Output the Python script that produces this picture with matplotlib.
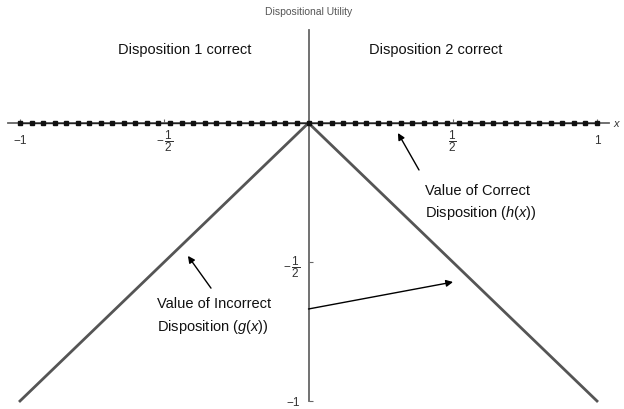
import numpy as np
import matplotlib
matplotlib.use("Agg")
import matplotlib.pyplot as plt

plt.rcParams['font.family'] = ['Liberation Sans', 'DejaVu Sans']
plt.rcParams['mathtext.fontset'] = 'custom'
plt.rcParams['mathtext.rm'] = 'Liberation Sans'
plt.rcParams['mathtext.it'] = 'Liberation Sans:italic'

# g(x): value of the incorrect disposition
g_x = [-1, 0, 1]
g_vals = [-1, 0, -1]
# h(x): value of the correct disposition (sampled points)
h_x = np.linspace(-1, 1, 51)
h_vals = np.zeros(len(h_x))

xticks = [-1, -0.5, 0.5, 1]
xtick_labels = ["\u22121", r"$-\,\dfrac{1}{2}$", r"$\dfrac{1}{2}$", "1"]
yticks = [-1, -0.5]
ytick_labels = ["\u22121", r"$-\,\dfrac{1}{2}$"]

fig = plt.figure(figsize=(6.24, 4.10), dpi=100)
ax = fig.add_axes([0, 0, 1, 1])
ax.set_xlim(-308.5 / 288.5, (624 - 308.5) / 288.5)
ax.set_ylim((124 - 410) / 278, 124 / 278)

axcol = '#666666'
for s in ['top', 'right']:
    ax.spines[s].set_visible(False)
ax.spines['left'].set_position(('data', 0))
ax.spines['bottom'].set_position(('data', 0))
ax.spines['left'].set_bounds(-1, 0.335)
ax.spines['bottom'].set_bounds(-1.042, 1.042)
for s in ['left', 'bottom']:
    ax.spines[s].set_color(axcol)
    ax.spines[s].set_linewidth(1.3)

ax.set_xticks(xticks)
ax.set_xticklabels(xtick_labels)
ax.set_yticks(yticks)
ax.set_yticklabels(ytick_labels)
ax.tick_params(axis='x', direction='in', length=3, color=axcol, pad=12,
               labelsize=8.5, labelcolor='#333333')
ax.tick_params(axis='y', direction='in', length=3, color=axcol, pad=6,
               labelsize=8.5, labelcolor='#333333')
for lbl in ax.get_xticklabels():
    lbl.set_va('center')

ax.plot(g_x, g_vals, color='#555555', lw=2, zorder=3)
ax.plot(h_x, h_vals, color='#222222', lw=1, marker='s', markersize=3.3,
        markerfacecolor='#111111', markeredgecolor='#111111', zorder=4)

ax.text((613 - 308.5) / 288.5, 0, "x", style='italic', fontsize=8,
        color='#333333', ha='left', va='center')

ax.text(0, 0.403, "Dispositional Utility", fontsize=7.5, color='#555555',
        ha='center', va='center')
ax.text(-0.428, 0.266, "Disposition 1 correct", fontsize=10.5,
        ha='center', va='center', color='#111111')
ax.text(0.442, 0.266, "Disposition 2 correct", fontsize=10.5,
        ha='center', va='center', color='#111111')

ax.text(0.404, -0.284, "Value of Correct\nDisposition ($\\it{h}$($\\it{x}$))",
        fontsize=10.5, ha='left', va='center', linespacing=1.5, color='#111111')
ax.text(-0.525, -0.692, "Value of Incorrect\nDisposition ($\\it{g}$($\\it{x}$))",
        fontsize=10.5, ha='left', va='center', linespacing=1.5, color='#111111')

arrow = dict(arrowstyle='-|>', color='black', lw=1, mutation_scale=10,
             shrinkA=0, shrinkB=0)
ax.annotate("", xy=(0.310, -0.036), xytext=(0.383, -0.169), arrowprops=arrow)
ax.annotate("", xy=(-0.418, -0.478), xytext=(-0.338, -0.594), arrowprops=arrow)
ax.annotate("", xy=(0.501, -0.572), xytext=(0.0, -0.669), arrowprops=arrow)

fig.savefig("out.png", dpi=100)
